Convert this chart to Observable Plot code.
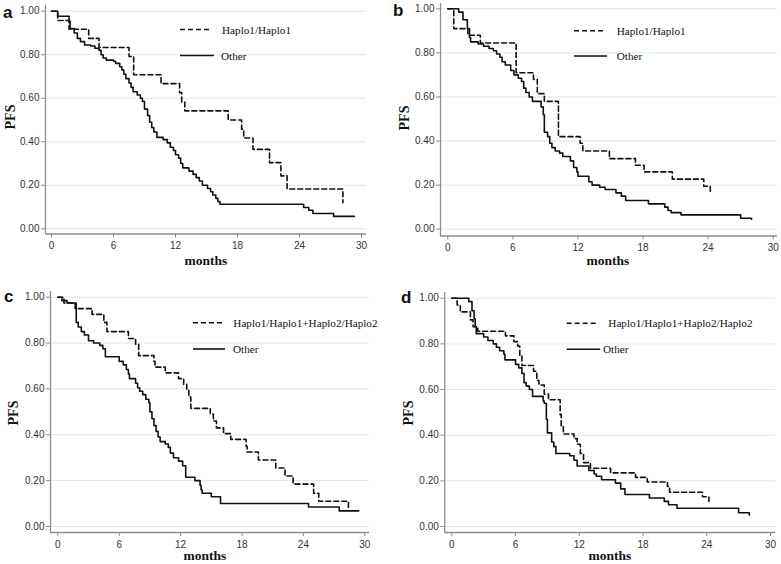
<!DOCTYPE html>
<html>
<head>
<meta charset="utf-8">
<script src="https://cdn.jsdelivr.net/npm/d3@7"></script>
<script src="https://cdn.jsdelivr.net/npm/@observablehq/plot@0.6"></script>
<style>
  body { margin: 0; background: #fff; }
  #root { position: relative; width: 781px; height: 564px; overflow: hidden; background: #fff; }
  .panel { position: absolute; }
  #overlay { position: absolute; left: 0; top: 0; pointer-events: none; }
</style>
</head>
<body>
<div id="root"></div>
<script>
// ---------- DATA ----------
const monthTicks = [0, 6, 12, 18, 24, 30];
const pfsTicks = [0, 0.2, 0.4, 0.6, 0.8, 1.0];
const panelLetters = ["a", "b", "c", "d"];
const legendAB = ["Haplo1/Haplo1", "Other"];
const legendCD = ["Haplo1/Haplo1+Haplo2/Haplo2", "Other"];
const xTitle = "months";
const yTitle = "PFS";

// Kaplan-Meier steps: [month, PFS after step]
const aHaplo = [[0,1],[0.6,0.957],[1.7,0.917],[3.6,0.875],[4.6,0.833],[7.5,0.792],[7.95,0.708],[10.6,0.667],[12.4,0.625],[12.6,0.583],[12.9,0.542],[17.1,0.5],[18.4,0.458],[18.6,0.417],[19.5,0.365],[21.1,0.304],[22.2,0.243],[22.8,0.183],[28.2,0.12]];
const aOther = [[0,1],[0.6,0.977],[1.7,0.955],[1.8,0.92],[2.2,0.90],[2.5,0.875],[2.8,0.86],[3.2,0.845],[3.8,0.84],[4.2,0.83],[4.6,0.82],[4.8,0.80],[5.0,0.785],[5.3,0.775],[6.0,0.77],[6.2,0.76],[6.6,0.745],[6.8,0.73],[7.0,0.71],[7.2,0.69],[7.5,0.67],[7.7,0.65],[7.9,0.63],[8.3,0.615],[8.6,0.60],[8.8,0.585],[9.0,0.55],[9.3,0.52],[9.5,0.49],[9.7,0.465],[9.9,0.445],[10.2,0.42],[10.8,0.41],[11.2,0.395],[11.5,0.375],[11.8,0.36],[12.0,0.34],[12.3,0.325],[12.5,0.30],[12.7,0.28],[13.3,0.265],[13.7,0.25],[14.0,0.235],[14.3,0.22],[14.6,0.20],[15.1,0.185],[15.4,0.17],[15.6,0.155],[15.9,0.14],[16.1,0.125],[16.3,0.113],[24.4,0.098],[24.9,0.085],[25.3,0.07],[27.3,0.057],[29.3,0.057]];

const bHaplo = [[0,1],[0.55,0.91],[1.85,0.88],[3.0,0.845],[6.3,0.71],[7.9,0.68],[8.25,0.615],[8.9,0.58],[10.2,0.42],[12.2,0.39],[12.45,0.355],[14.9,0.32],[17.3,0.29],[18.1,0.26],[20.7,0.227],[23.6,0.195],[24.2,0.17]];
const bOther = [[0,1],[1.0,0.985],[1.4,0.95],[1.8,0.91],[2.0,0.87],[2.1,0.85],[2.8,0.84],[3.3,0.83],[3.8,0.82],[4.2,0.81],[4.5,0.795],[4.8,0.78],[5.0,0.76],[5.3,0.745],[5.8,0.72],[6.1,0.70],[6.5,0.685],[6.8,0.67],[7.0,0.64],[7.2,0.62],[7.5,0.60],[7.8,0.58],[8.6,0.555],[8.8,0.52],[8.9,0.44],[9.2,0.42],[9.4,0.39],[9.6,0.37],[9.9,0.355],[10.3,0.345],[10.6,0.33],[11.3,0.31],[11.6,0.28],[11.9,0.26],[12.0,0.24],[13.0,0.215],[13.3,0.20],[14.0,0.19],[14.5,0.18],[15.5,0.165],[16.0,0.15],[16.4,0.13],[18.5,0.115],[20.0,0.10],[20.3,0.085],[20.6,0.075],[21.5,0.065],[27.0,0.05],[28.0,0.045]];

const cHaplo = [[0,1],[0.6,0.975],[1.7,0.95],[3.35,0.925],[4.5,0.89],[4.8,0.85],[6.9,0.82],[7.6,0.795],[7.9,0.745],[9.4,0.72],[9.5,0.695],[10.5,0.67],[11.8,0.645],[12.3,0.62],[12.6,0.595],[12.8,0.565],[13.0,0.515],[14.9,0.49],[15.2,0.46],[15.5,0.43],[16.2,0.405],[16.9,0.38],[18.4,0.35],[18.5,0.325],[19.6,0.29],[21.3,0.255],[22.2,0.22],[23.0,0.185],[25.0,0.145],[25.5,0.11],[28.4,0.075]];
const cOther = [[0,1],[0.4,0.985],[0.9,0.975],[1.8,0.89],[2.0,0.87],[2.3,0.85],[2.6,0.835],[3.0,0.81],[3.5,0.80],[4.1,0.79],[4.4,0.775],[4.65,0.74],[6.0,0.72],[6.4,0.705],[6.7,0.685],[6.9,0.665],[7.0,0.645],[7.6,0.625],[7.8,0.605],[8.0,0.59],[8.3,0.575],[8.6,0.555],[8.9,0.54],[9.0,0.50],[9.2,0.47],[9.4,0.44],[9.6,0.415],[9.8,0.39],[10.0,0.37],[10.5,0.36],[10.8,0.345],[11.0,0.32],[11.3,0.30],[11.8,0.285],[12.2,0.265],[12.5,0.215],[13.4,0.20],[13.9,0.18],[14.0,0.16],[14.1,0.145],[15.0,0.13],[15.9,0.10],[24.5,0.085],[27.5,0.068],[29.4,0.068]];

const dHaplo = [[0,1],[0.5,0.97],[0.8,0.94],[1.75,0.905],[2.0,0.875],[2.45,0.855],[5.05,0.835],[5.85,0.81],[6.2,0.79],[6.4,0.75],[6.6,0.705],[7.7,0.68],[8.0,0.64],[8.2,0.62],[8.7,0.58],[9.1,0.555],[10.2,0.49],[10.3,0.44],[10.5,0.405],[11.5,0.385],[11.8,0.36],[12.1,0.32],[12.4,0.28],[13.05,0.255],[14.95,0.235],[17.3,0.215],[18.4,0.195],[20.3,0.175],[20.5,0.15],[23.6,0.13],[24.2,0.11]];
const dOther = [[0,1],[1.6,0.985],[1.9,0.945],[2.1,0.91],[2.2,0.875],[2.3,0.845],[3.0,0.83],[3.4,0.815],[3.9,0.80],[4.2,0.785],[4.5,0.77],[4.9,0.755],[5.0,0.73],[6.0,0.71],[6.3,0.695],[6.6,0.67],[6.8,0.63],[7.0,0.615],[7.3,0.60],[7.6,0.57],[8.6,0.55],[8.7,0.54],[8.9,0.47],[9.0,0.41],[9.4,0.37],[9.6,0.35],[9.8,0.32],[11.1,0.31],[11.5,0.29],[11.8,0.265],[12.9,0.245],[13.4,0.23],[13.6,0.22],[14.1,0.205],[15.4,0.19],[15.9,0.165],[16.3,0.14],[18.6,0.125],[20.0,0.11],[20.4,0.095],[21.2,0.08],[27.0,0.06],[27.9,0.06],[28.0,0.05]];

// ---------- LAYOUT (pixels) ----------
const layouts = [
  {left:0,   top:0,   w:390, h:280, axisL:45,    axisR:366, axisT:5,   axisB:233.5, x0:51,    x30:361,   y1:10.7,  y0:228.3,
   letter:[3,17.5], pfs:[10,117], months:[206,265], leg:{lx:[180,212], ly:[29.5,55.5], tx:[222,221]}},
  {left:390, top:0,   w:391, h:280, axisL:440,   axisR:777, axisT:3,   axisB:235.5, x0:447.3, x30:772.7, y1:8.3,   y0:228.7,
   letter:[393,16], pfs:[404,118], months:[608,265], leg:{lx:[574,605], ly:[30.7,56], tx:[616.7,616.7]}},
  {left:0,   top:280, w:390, h:284, axisL:50,    axisR:369, axisT:291, axisB:532,   x0:57.3,  x30:364.3, y1:296.7, y0:526,
   letter:[4,302], pfs:[13,413], months:[205,560], leg:{lx:[193,223], ly:[322.7,349], tx:[233.3,233]}},
  {left:390, top:280, w:391, h:284, axisL:444.3, axisR:775, axisT:292, axisB:532,   x0:451.3, x30:770,   y1:297.7, y0:526,
   letter:[401,303], pfs:[408,413], months:[610,560], leg:{lx:[566.7,598.3], ly:[323.3,349.3], tx:[608.3,603]}}
];

const panels = [
  {haplo: aHaplo, other: aOther, names: legendAB},
  {haplo: bHaplo, other: bOther, names: legendAB},
  {haplo: cHaplo, other: cOther, names: legendCD},
  {haplo: dHaplo, other: dOther, names: legendCD}
];

const root = document.getElementById("root");
const toRows = arr => arr.map(([t, s]) => ({t, s}));
const axisGray = "#8c8c8c";
const ink = "#111";
const dash = "5,3";

panels.forEach((p, i) => {
  const L = layouts[i];
  const kx = (L.x30 - L.x0) / 30;
  const ky = L.y0 - L.y1;
  const xd = [(L.axisL - L.x0) / kx, (L.axisR - L.x0) / kx];
  const yd = [(L.y0 - L.axisB) / ky, (L.y0 - L.axisT) / ky];
  const chart = Plot.plot({
    width: L.w, height: L.h,
    marginLeft: L.axisL - L.left,
    marginRight: L.left + L.w - L.axisR,
    marginTop: L.axisT - L.top,
    marginBottom: L.top + L.h - L.axisB,
    x: {domain: xd},
    y: {domain: yd},
    style: {fontFamily: "'Liberation Sans', Arial, sans-serif", fontSize: "10px", background: "transparent", overflow: "visible"},
    marks: [
      Plot.gridY(pfsTicks, {stroke: "#dbe8eb", strokeOpacity: 1, strokeWidth: 1}),
      Plot.ruleX([xd[0]], {stroke: axisGray, strokeWidth: 1.3}),
      Plot.ruleY([yd[0]], {stroke: axisGray, strokeWidth: 1.3}),
      Plot.axisX(monthTicks, {tickSize: 4, tickPadding: 4, stroke: axisGray, fill: "#333", label: null}),
      Plot.axisY(pfsTicks, {tickSize: 4, tickPadding: 2, tickFormat: d3.format(".2f"), stroke: axisGray, fill: "#333", label: null}),
      Plot.line(toRows(p.other), {x: "t", y: "s", curve: "step-after", stroke: ink, strokeWidth: 1.6}),
      Plot.line(toRows(p.haplo), {x: "t", y: "s", curve: "step-after", stroke: ink, strokeWidth: 1.6, strokeDasharray: dash})
    ]
  });
  chart.classList.add("panel");
  chart.style.left = L.left + "px";
  chart.style.top = L.top + "px";
  root.appendChild(chart);
});

// ---------- overlay text: letters, axis titles, legends ----------
const NS = "http://www.w3.org/2000/svg";
const ov = document.createElementNS(NS, "svg");
ov.setAttribute("id", "overlay");
ov.setAttribute("width", 781);
ov.setAttribute("height", 564);
root.appendChild(ov);
function el(name, attrs, text) {
  const e = document.createElementNS(NS, name);
  for (const k in attrs) e.setAttribute(k, attrs[k]);
  if (text != null) e.textContent = text;
  ov.appendChild(e);
  return e;
}
const serif = "'Liberation Serif', 'Times New Roman', serif";
layouts.forEach((L, i) => {
  el("text", {x: L.letter[0], y: L.letter[1], "font-family": "'Liberation Sans', Arial, sans-serif", "font-weight": "bold", "font-size": 17, fill: "#111"}, panelLetters[i]);
  el("text", {x: L.months[0], y: L.months[1], "text-anchor": "middle", "font-family": serif, "font-weight": "bold", "font-size": 13.5, fill: "#111"}, xTitle);
  el("text", {transform: `translate(${L.pfs[0]},${L.pfs[1]}) rotate(-90)`, "text-anchor": "middle", "dominant-baseline": "central", "font-family": serif, "font-weight": "bold", "font-size": 14, fill: "#111"}, yTitle);
  const names = panels[i].names;
  [0, 1].forEach(j => {
    el("line", {x1: L.leg.lx[0], x2: L.leg.lx[1] + (j ? 2 : 0), y1: L.leg.ly[j], y2: L.leg.ly[j], stroke: ink, "stroke-width": 1.6, "stroke-dasharray": j === 0 ? dash : "none"});
    el("text", {x: L.leg.tx[j], y: L.leg.ly[j], "dominant-baseline": "central", "font-family": serif, "font-size": 11.2, fill: "#111"}, names[j]);
  });
});
</script>
</body>
</html>
